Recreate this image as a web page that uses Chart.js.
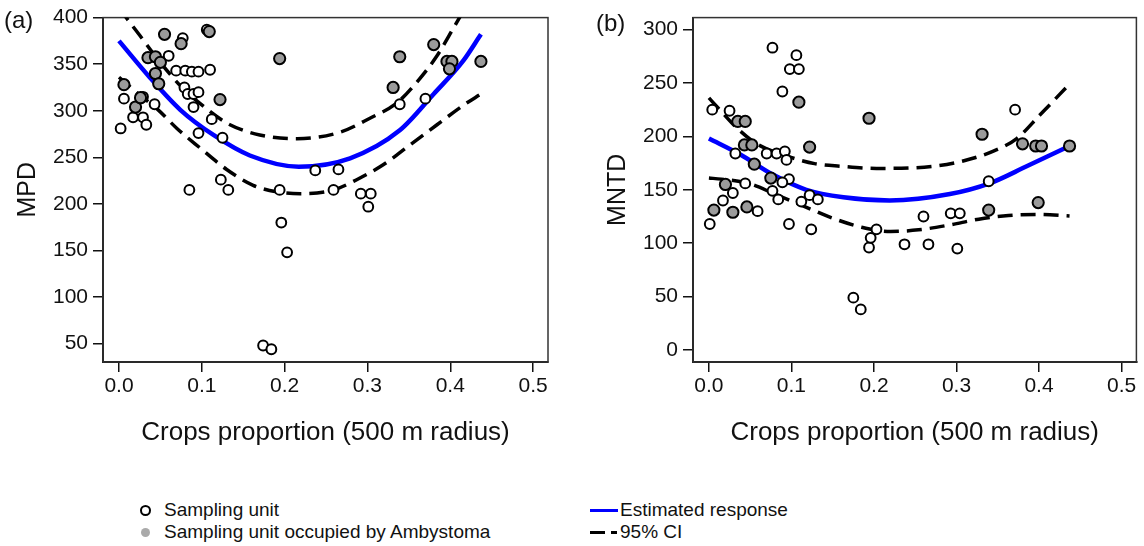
<!DOCTYPE html>
<html>
<head>
<meta charset="utf-8">
<script src="https://cdn.jsdelivr.net/npm/chart.js@4.4.1/dist/chart.umd.min.js"></script>
<style>
  body { margin: 0; background: #fff; width: 1144px; height: 546px; position: relative; overflow: hidden;
         font-family: "Liberation Sans", Arial, sans-serif; color: #111; }
  canvas { position: absolute; top: 0; }
  .tag { position: absolute; font-size: 24px; line-height: 24px; }
  .leg { position: absolute; font-size: 19px; line-height: 22px; white-space: nowrap; }
  .mark { position: absolute; }
</style>
</head>
<body>
<canvas id="chartA" width="580" height="450" style="left:0px"></canvas>
<canvas id="chartB" width="554" height="450" style="left:590px"></canvas>
<div class="tag" style="left:4px;top:8px">(a)</div>
<div class="tag" style="left:596px;top:11px">(b)</div>

<!-- legenda apakšā -->
<div class="mark" style="left:140px;top:505px;width:7px;height:7px;border:2px solid #000;border-radius:50%;background:#fff"></div>
<div class="leg" style="left:164px;top:499px">Sampling unit</div>
<div class="mark" style="left:141px;top:528px;width:9px;height:9px;border-radius:50%;background:#aaa"></div>
<div class="leg" style="left:164px;top:521px">Sampling unit occupied by Ambystoma</div>
<div class="mark" style="left:590px;top:509px;width:28px;height:3px;background:#0000ff"></div>
<div class="leg" style="left:620px;top:499px">Estimated response</div>
<div class="mark" style="left:590px;top:531px;width:15px;height:3px;background:#000"></div>
<div class="mark" style="left:611px;top:531px;width:6px;height:3px;background:#000"></div>
<div class="leg" style="left:620px;top:521px">95% CI</div>

<script>
// Ass ticki
const xTicks = [0, 0.1, 0.2, 0.3, 0.4, 0.5];
const xTickLabels = ['0.0', '0.1', '0.2', '0.3', '0.4', '0.5'];
const mpdTicks = [50, 100, 150, 200, 250, 300, 350, 400];
const mntdTicks = [0, 50, 100, 150, 200, 250, 300];

// (a) MPD - paraugu vienības [daļa, MPD]
const mpdOpen = [
    [0.002, 281], [0.006, 313], [0.017, 293], [0.029, 293], [0.033, 285], [0.029, 315], [0.043, 307],
    [0.060, 359], [0.069, 343], [0.080, 343], [0.088, 342], [0.096, 342], [0.110, 344], [0.077, 378],
    [0.106, 387], [0.079, 325], [0.083, 318], [0.090, 318], [0.096, 320], [0.090, 304], [0.112, 291],
    [0.096, 276], [0.125, 271], [0.085, 215], [0.123, 226], [0.132, 215], [0.194, 215], [0.196, 180],
    [0.203, 148], [0.174, 48], [0.184, 44], [0.237, 236], [0.265, 237], [0.259, 215], [0.292, 211],
    [0.304, 211], [0.301, 197], [0.339, 307], [0.370, 313]
];
const mpdOccupied = [
    [0.006, 328], [0.020, 304], [0.026, 314], [0.035, 357], [0.044, 358], [0.050, 352], [0.044, 340],
    [0.048, 329], [0.055, 382], [0.075, 372], [0.109, 385], [0.122, 312], [0.194, 356], [0.331, 325],
    [0.339, 358], [0.380, 371], [0.396, 353], [0.402, 353], [0.399, 345], [0.437, 353]
];
const mpdFitX = [0, 0.037, 0.074, 0.114, 0.158, 0.217, 0.279, 0.339, 0.380, 0.416, 0.437];
const mpdFitY = [375, 336, 301, 274, 252, 240, 249, 279, 318, 354, 382];
const mpdUpX = [0, 0.025, 0.048, 0.074, 0.106, 0.134, 0.170, 0.215, 0.267, 0.303, 0.335, 0.360, 0.384, 0.404, 0.437];
const mpdUpY = [410, 381, 354, 327, 302, 285, 274, 270, 277, 292, 308, 331, 359, 389, 440];
const mpdLoX = [0, 0.025, 0.046, 0.070, 0.098, 0.130, 0.162, 0.190, 0.219, 0.259, 0.287, 0.319, 0.351, 0.384, 0.416, 0.437];
const mpdLoY = [336, 317, 302, 281, 260, 237, 220, 213, 211, 215, 226, 242, 263, 285, 306, 318];

// (b) MNTD
const mntdOpen = [
    [0.077, 283], [0.106, 276], [0.098, 263], [0.109, 263], [0.089, 242], [0.004, 225], [0.025, 224],
    [0.032, 184], [0.070, 184], [0.082, 184], [0.092, 186], [0.094, 178], [0.097, 160], [0.089, 157],
    [0.077, 149], [0.084, 141], [0.044, 156], [0.029, 147], [0.017, 140], [0.059, 130], [0.001, 118],
    [0.097, 118], [0.124, 113], [0.122, 145], [0.132, 141], [0.112, 139], [0.194, 96], [0.196, 105],
    [0.203, 113], [0.175, 49], [0.184, 38], [0.237, 99], [0.266, 99], [0.260, 125], [0.293, 128],
    [0.304, 128], [0.301, 95], [0.339, 158], [0.371, 225]
];
const mntdOccupied = [
    [0.109, 232], [0.035, 214], [0.044, 214], [0.043, 192], [0.052, 192], [0.122, 190], [0.055, 174],
    [0.075, 161], [0.020, 155], [0.006, 131], [0.029, 129], [0.046, 134], [0.194, 217], [0.331, 202],
    [0.380, 193], [0.396, 191], [0.403, 191], [0.437, 191], [0.399, 138], [0.339, 131]
];
const mntdFitX = [0, 0.038, 0.078, 0.118, 0.163, 0.219, 0.292, 0.340, 0.385, 0.437];
const mntdFitY = [198, 183, 164, 150, 143, 140, 146, 156, 172, 191];
const mntdUpX = [0, 0.013, 0.031, 0.058, 0.093, 0.128, 0.160, 0.203, 0.272, 0.308, 0.344, 0.373, 0.401, 0.437];
const mntdUpY = [236, 225, 210, 193, 182, 174.5, 172, 170, 172, 177, 186, 198, 220, 249];
const mntdLoX = [0, 0.015, 0.048, 0.080, 0.114, 0.148, 0.185, 0.220, 0.254, 0.291, 0.327, 0.363, 0.400, 0.437];
const mntdLoY = [161, 160, 156, 146, 135, 124, 115, 111, 112.5, 117, 122.5, 126, 127, 125.5];

const FONT = '"Liberation Sans", Arial, sans-serif';
Chart.defaults.font.family = FONT;
Chart.defaults.color = '#111';

const toPts = arr => arr.map(p => ({ x: p[0], y: p[1] }));
const zipPts = (xs, ys) => xs.map((x, i) => ({ x: x, y: ys[i] }));

// rāmis ap zīmēšanas laukumu
const boxPlugin = {
    id: 'box',
    beforeDatasetsDraw(chart) {
        const { ctx, chartArea: a } = chart;
        ctx.save();
        ctx.strokeStyle = '#333';
        ctx.lineWidth = 1.5;
        ctx.strokeRect(a.left, a.top, a.right - a.left, a.bottom - a.top);
        ctx.restore();
    }
};

function curve(xs, ys, color, width, dash) {
    return {
        data: zipPts(xs, ys),
        showLine: true,
        pointRadius: 0,
        borderColor: color,
        borderWidth: width,
        borderDash: dash,
        cubicInterpolationMode: 'monotone',
        fill: false
    };
}

function makePanel(id, p) {
    const ctx = document.getElementById(id).getContext('2d');
    return new Chart(ctx, {
        type: 'scatter',
        data: {
            datasets: [
                { data: toPts(p.occupied), pointRadius: 5.6, backgroundColor: '#9b9b9b', borderColor: '#000', borderWidth: 2 },
                { data: toPts(p.open), pointRadius: 4.9, backgroundColor: '#fff', borderColor: '#000', borderWidth: 2 },
                curve(p.fitX, p.fitY, '#0000ff', 4.5, []),
                curve(p.upX, p.upY, '#000', 3.5, [15, 8]),
                curve(p.loX, p.loY, '#000', 3.5, [15, 8])
            ]
        },
        options: {
            responsive: false,
            animation: false,
            layout: { padding: { left: 0, top: 15, right: p.padRight, bottom: 0 } },
            plugins: { legend: { display: false }, tooltip: { enabled: false } },
            scales: {
                x: {
                    type: 'linear',
                    min: -0.0193,
                    max: 0.518,
                    afterBuildTicks: s => { s.ticks = xTicks.map(v => ({ value: v })); },
                    afterFit: s => { s.height = 88; },
                    ticks: { callback: (v, i) => xTickLabels[i], font: { size: 21 }, padding: 2, maxRotation: 0, autoSkip: false },
                    grid: { drawOnChartArea: false, drawTicks: true, tickLength: 10, color: '#111', lineWidth: 1.5 },
                    border: { display: true, color: '#111', width: 2 },
                    title: { display: true, text: 'Crops proportion (500 m radius)', font: { size: 26 }, padding: { top: 0, bottom: 2 } }
                },
                y: {
                    type: 'linear',
                    min: p.yMin,
                    max: p.yMax,
                    afterBuildTicks: s => { s.ticks = p.yTicks.map(v => ({ value: v })); },
                    afterFit: s => { s.width = 103; },
                    ticks: { callback: v => String(v), font: { size: 21 }, padding: 5, autoSkip: false },
                    grid: { drawOnChartArea: false, drawTicks: true, tickLength: 10, color: '#111', lineWidth: 1.5 },
                    border: { display: true, color: '#111', width: 2 },
                    title: { display: true, text: p.yTitle, font: { size: 25 }, padding: { top: 13, bottom: 0 } }
                }
            }
        },
        plugins: [boxPlugin]
    });
}

makePanel('chartA', {
    open: mpdOpen, occupied: mpdOccupied,
    fitX: mpdFitX, fitY: mpdFitY, upX: mpdUpX, upY: mpdUpY, loX: mpdLoX, loY: mpdLoY,
    yMin: 30.3, yMax: 400, yTicks: mpdTicks, yTitle: 'MPD', padRight: 32
});

makePanel('chartB', {
    open: mntdOpen, occupied: mntdOccupied,
    fitX: mntdFitX, fitY: mntdFitY, upX: mntdUpX, upY: mntdUpY, loX: mntdLoX, loY: mntdLoY,
    yMin: -11.2, yMax: 311.2, yTicks: mntdTicks, yTitle: 'MNTD', padRight: 6
});
</script>
</body>
</html>
